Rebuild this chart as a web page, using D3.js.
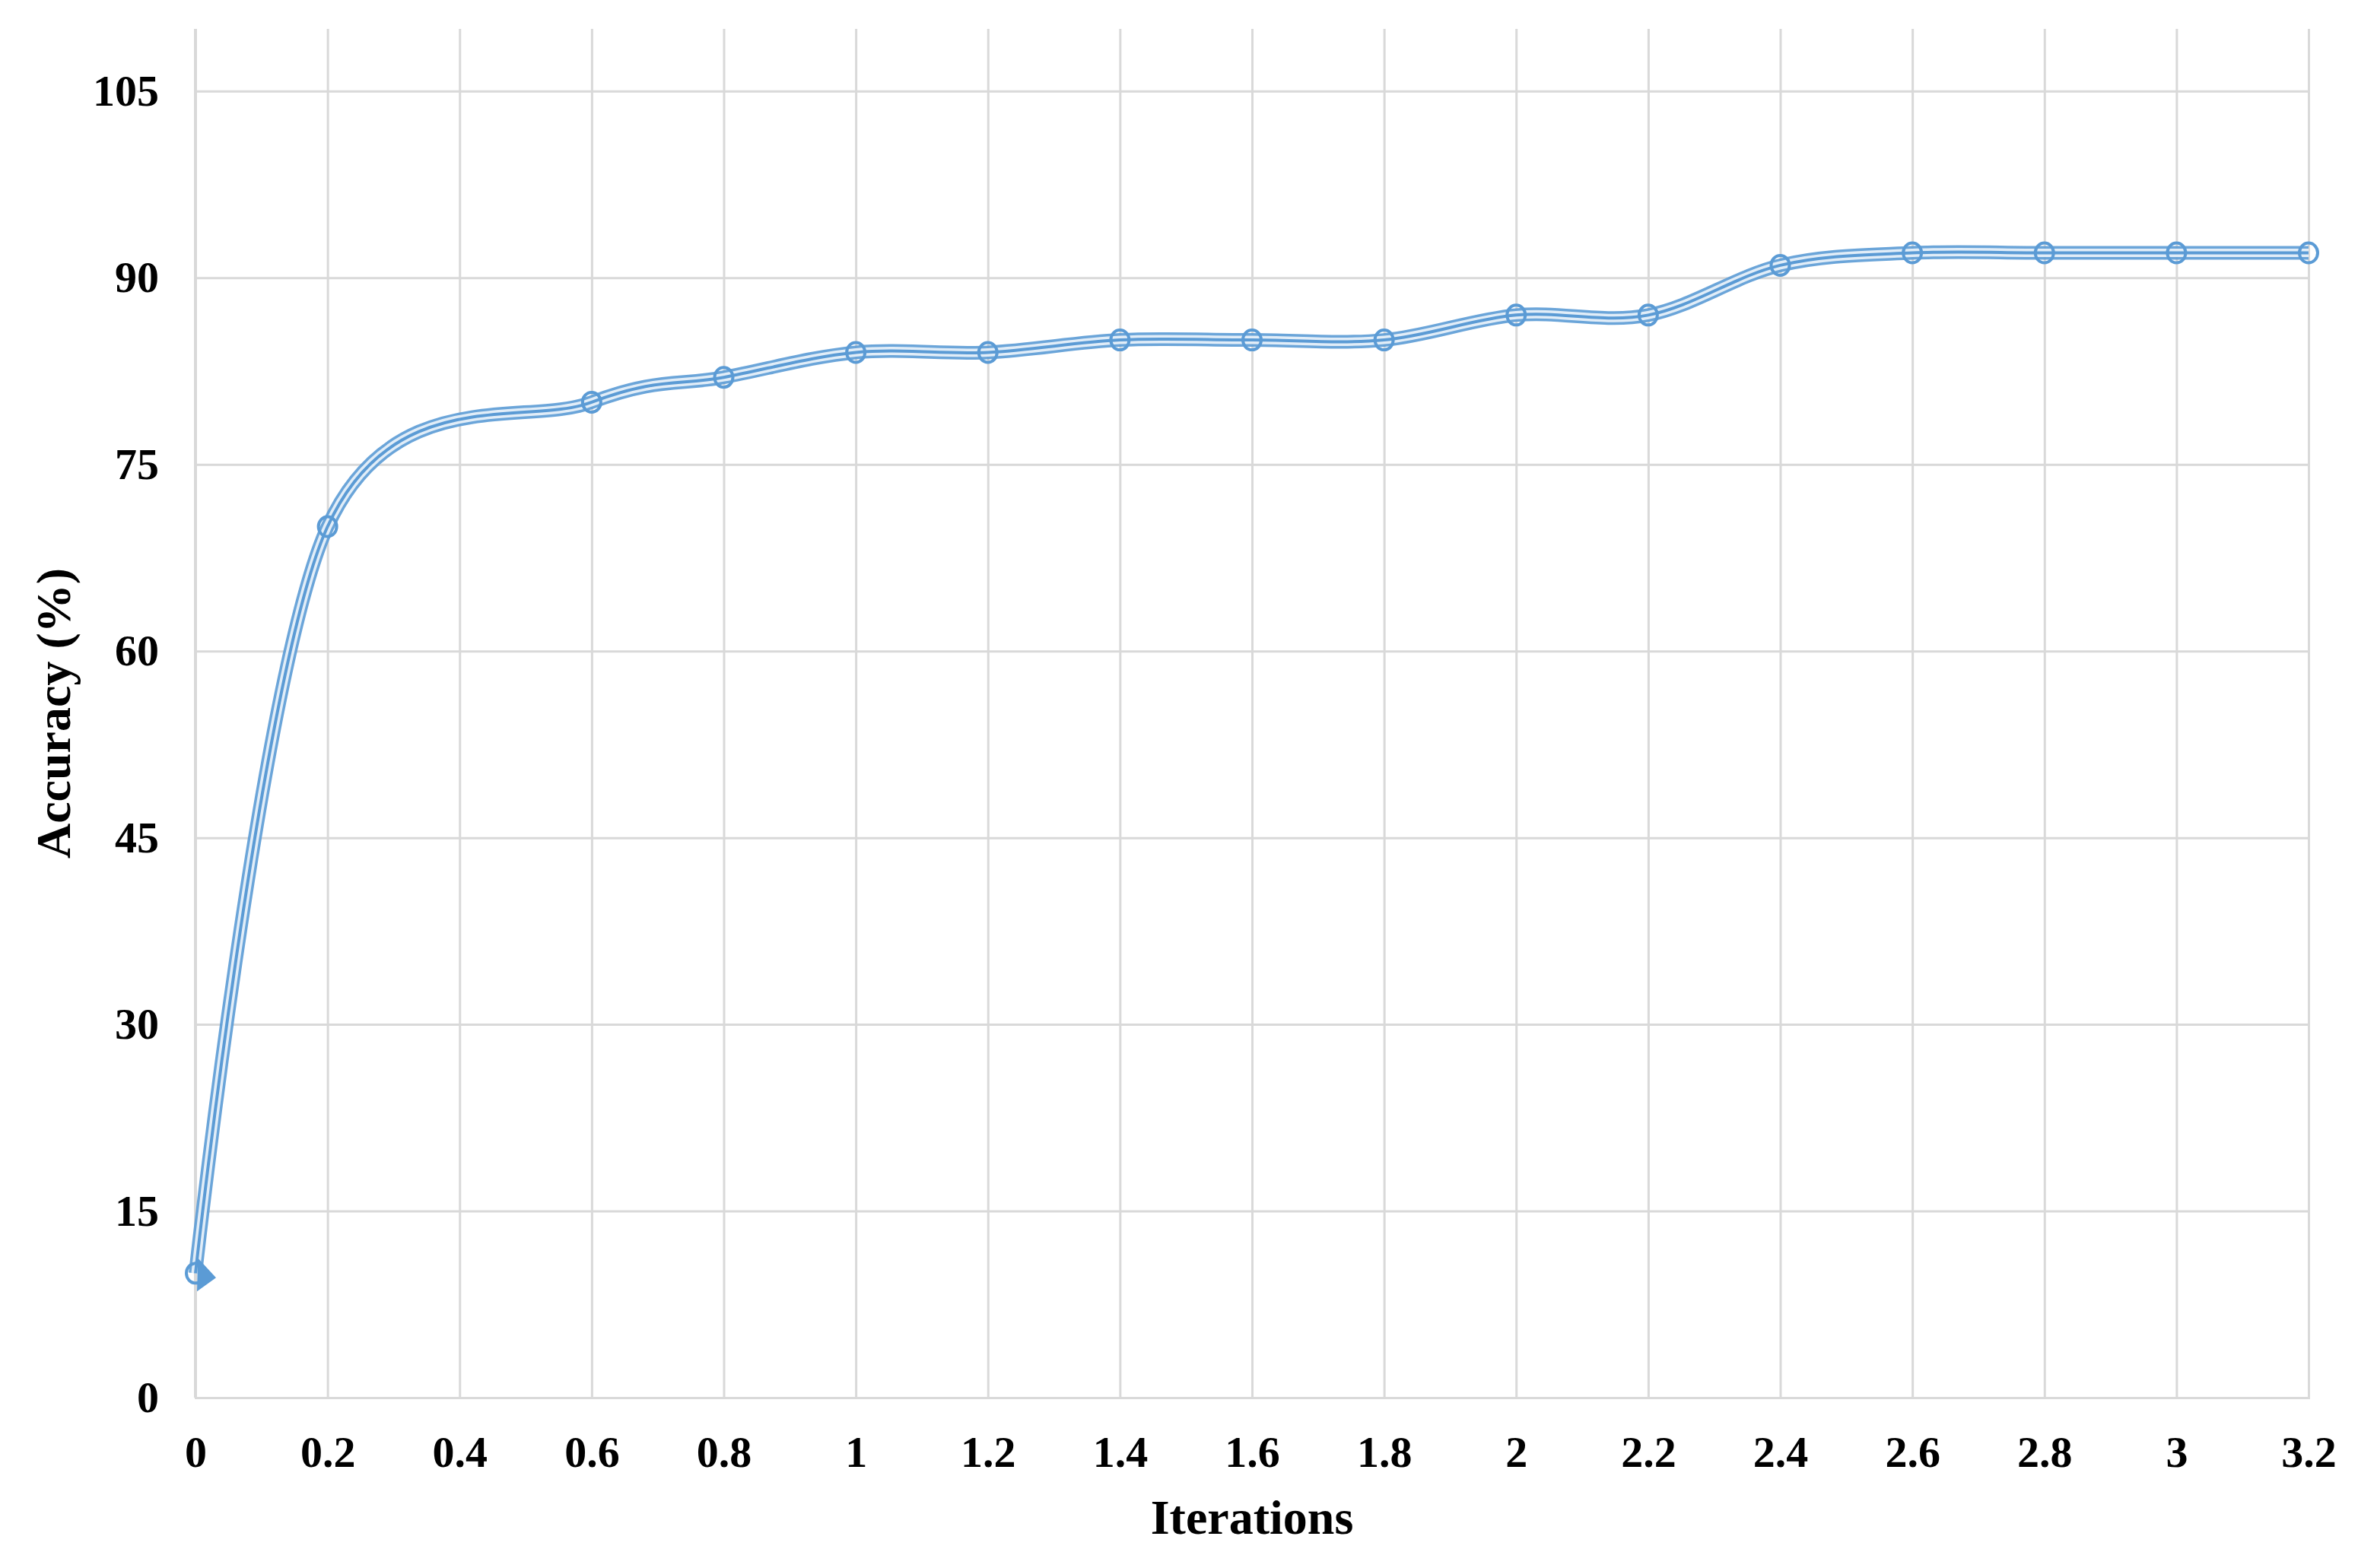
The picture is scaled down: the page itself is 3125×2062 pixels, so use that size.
<!DOCTYPE html>
<html>
<head>
<meta charset="utf-8">
<script src="https://cdn.jsdelivr.net/npm/d3@7/dist/d3.min.js"></script>
<style>
  html, body { margin: 0; padding: 0; background: #ffffff; }
  svg { display: block; }
</style>
</head>
<body>
<script>
// ---- data ----
const iterations = [0, 0.2, 0.6, 0.8, 1.0, 1.2, 1.4, 1.6, 1.8, 2.0, 2.2, 2.4, 2.6, 2.8, 3.0, 3.2];
const accuracy   = [10, 70, 80, 82, 84, 84, 85, 85, 85, 87, 87, 91, 92, 92, 92, 92];
const xTicks = [0, 0.2, 0.4, 0.6, 0.8, 1, 1.2, 1.4, 1.6, 1.8, 2, 2.2, 2.4, 2.6, 2.8, 3, 3.2];
const yTicks = [0, 15, 30, 45, 60, 75, 90, 105];
const xTitle = "Iterations";
const yTitle = "Accuracy (%)";

(function () {
const W = 3125, H = 2062;
const mL = 257, mR = 3035, mT = 38, mB = 1838;
const blue = "#5b9bd5";
const grid = "#d9d9d9";
const font = "'Liberation Serif', 'Times New Roman', serif";

const svg = d3.select("body").append("svg").attr("width", W).attr("height", H);
svg.append("rect").attr("width", W).attr("height", H).attr("fill", "#fff");

const x = d3.scaleLinear().domain([0, 3.2]).range([mL, mR]);
const y = d3.scaleLinear().domain([0, 110]).range([mB, mT]);

// vertical gridlines + x tick labels
const xAxis = d3.axisBottom(x).tickValues(xTicks).tickSize(-(mB - mT))
  .tickFormat(d => d3.format("~g")(d)).tickPadding(50);
const gx = svg.append("g").attr("transform", `translate(0,${mB})`).call(xAxis);
gx.select(".domain").attr("stroke", grid).attr("stroke-width", 3);
gx.selectAll(".tick line").attr("stroke", grid).attr("stroke-width", 3);
gx.selectAll(".tick text").attr("font-family", font).attr("font-weight", "bold")
  .attr("font-size", 58).attr("fill", "#000").attr("dy", "0.71em");

// horizontal gridlines + y tick labels
const yAxis = d3.axisLeft(y).tickValues(yTicks).tickSize(-(mR - mL)).tickPadding(48);
const gy = svg.append("g").attr("transform", `translate(${mL},0)`).call(yAxis);
gy.select(".domain").remove();
gy.selectAll(".tick line").attr("stroke", grid).attr("stroke-width", 3);
gy.selectAll(".tick text").attr("font-family", font).attr("font-weight", "bold")
  .attr("font-size", 58).attr("fill", "#000");
svg.append("line").attr("x1", mL).attr("x2", mL).attr("y1", mT).attr("y2", mB)
  .attr("stroke", grid).attr("stroke-width", 4);

// titles
svg.append("text").attr("x", (mL + mR) / 2).attr("y", 2017).attr("text-anchor", "middle")
  .attr("font-family", font).attr("font-weight", "bold").attr("font-size", 64).text(xTitle);
svg.append("text").attr("transform", `translate(92,${(mT + mB) / 2}) rotate(-90)`)
  .attr("text-anchor", "middle").attr("font-family", font).attr("font-weight", "bold")
  .attr("font-size", 64).text(yTitle);

// series (compound line: blue / white / blue / white / blue)
const pts = iterations.map((d, i) => [d, accuracy[i]]);
const line = d3.line().x(d => x(d[0])).y(d => y(d[1])).curve(d3.curveCatmullRom.alpha(0));
const g = svg.append("g");
g.append("path").attr("d", line(pts)).attr("fill", "none").attr("stroke", blue).attr("stroke-width", 18).attr("opacity", 0.9);
g.append("path").attr("d", line(pts)).attr("fill", "none").attr("stroke", "#fff").attr("stroke-width", 11).attr("opacity", 0.8);
g.append("path").attr("d", line(pts)).attr("fill", "none").attr("stroke", blue).attr("stroke-width", 4);

g.selectAll("ellipse.m").data(pts).enter().append("ellipse").attr("class", "m")
  .attr("cx", d => x(d[0])).attr("cy", d => y(d[1])).attr("rx", 12).attr("ry", 13)
  .attr("fill", "none").attr("stroke", blue).attr("stroke-width", 4);

// begin arrow head at first point
const p0 = pts[0];
g.append("path").attr("transform", `translate(${x(p0[0])},${y(p0[1])})`)
  .attr("d", "M3,-20 L27,6 L2,24 Z").attr("fill", blue);
})();
</script>
</body>
</html>
